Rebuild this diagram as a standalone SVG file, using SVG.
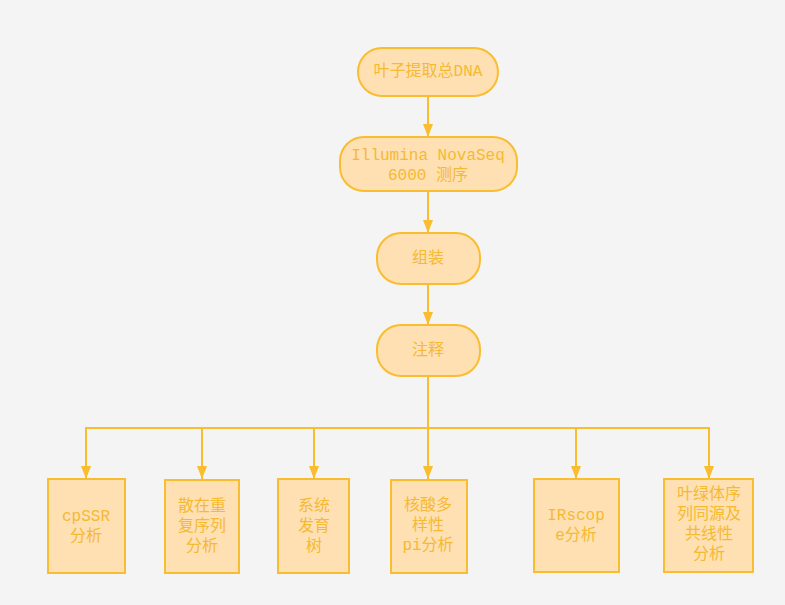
<svg xmlns="http://www.w3.org/2000/svg" width="785" height="605" viewBox="0 0 785 605">
<style>
.bg{fill:#f4f4f4}
.n{fill:#ffe0b2;stroke:#f9bd2f;stroke-width:2}
.t{fill:#f5b932;font-family:"Liberation Mono","Noto Sans CJK SC",monospace;font-size:16px;text-anchor:middle;dominant-baseline:central}
.c{fill:none;stroke:#f9bd2f;stroke-width:2}
</style>
<defs>
<marker id="ah" viewBox="0 0 13 10" markerWidth="13" markerHeight="10" refX="13" refY="5" orient="auto" markerUnits="userSpaceOnUse">
<path d="M0,0 L13,5 L0,10 z" fill="#f9bd2f"/>
</marker>
</defs>
<rect class="bg" x="0" y="0" width="785" height="605"/>
<g id="connectors">
<line class="c" x1="428" y1="96" x2="428" y2="137" marker-end="url(#ah)"/>
<line class="c" x1="428" y1="191" x2="428" y2="233" marker-end="url(#ah)"/>
<line class="c" x1="428" y1="284" x2="428" y2="325" marker-end="url(#ah)"/>
<line class="c" x1="428" y1="376" x2="428" y2="479" marker-end="url(#ah)"/>
<polyline class="c" points="86,428 709,428 709,479" marker-end="url(#ah)"/>
<line class="c" x1="86" y1="427" x2="86" y2="479" marker-end="url(#ah)"/>
<line class="c" x1="202" y1="428" x2="202" y2="479" marker-end="url(#ah)"/>
<line class="c" x1="314" y1="428" x2="314" y2="479" marker-end="url(#ah)"/>
<line class="c" x1="576" y1="428" x2="576" y2="479" marker-end="url(#ah)"/>
</g>
<g id="n1"><rect class="n" x="358" y="48" width="140" height="48" rx="24"/><text class="t" x="428" y="72">叶子提取总DNA</text></g>
<g id="n2"><rect class="n" x="340" y="137" width="177" height="54" rx="24"/><text class="t" x="428" y="156">Illumina NovaSeq</text><text class="t" x="428" y="176">6000 测序</text></g>
<g id="n3"><rect class="n" x="377" y="233" width="103" height="51" rx="24"/><text class="t" x="428" y="259">组装</text></g>
<g id="n4"><rect class="n" x="377" y="325" width="103" height="51" rx="24"/><text class="t" x="428" y="351">注释</text></g>
<g id="b1"><rect class="n" x="48" y="479" width="77" height="94"/><text class="t" x="86" y="517">cpSSR</text><text class="t" x="86" y="537">分析</text></g>
<g id="b2"><rect class="n" x="165" y="480" width="74" height="93"/><text class="t" x="202" y="507">散在重</text><text class="t" x="202" y="527">复序列</text><text class="t" x="202" y="547">分析</text></g>
<g id="b3"><rect class="n" x="278" y="479" width="71" height="94"/><text class="t" x="314" y="507">系统</text><text class="t" x="314" y="527">发育</text><text class="t" x="314" y="547">树</text></g>
<g id="b4"><rect class="n" x="391" y="480" width="76" height="93"/><text class="t" x="428" y="506">核酸多</text><text class="t" x="428" y="526">样性</text><text class="t" x="428" y="546">pi分析</text></g>
<g id="b5"><rect class="n" x="534" y="479" width="85" height="93"/><text class="t" x="576" y="516">IRscop</text><text class="t" x="576" y="536">e分析</text></g>
<g id="b6"><rect class="n" x="664" y="479" width="89" height="93"/><text class="t" x="709" y="495">叶绿体序</text><text class="t" x="709" y="515">列同源及</text><text class="t" x="709" y="535">共线性</text><text class="t" x="709" y="555">分析</text></g>
</svg>
